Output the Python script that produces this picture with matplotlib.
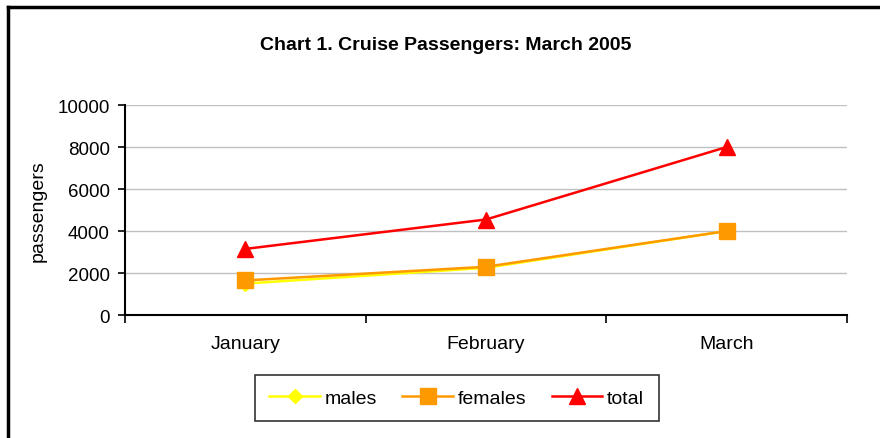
import matplotlib.pyplot as plt
from matplotlib.lines import Line2D

plt.rcParams['font.family'] = ['Liberation Sans', 'DejaVu Sans']

months = ['January', 'February', 'March']
males = [1500, 2250, 4000]
females = [1650, 2300, 4000]
total = [3150, 4550, 8000]

fig = plt.figure(figsize=(8.8, 4.39), dpi=100)
ax = fig.add_axes([0.142, 0.280, 0.8205, 0.4785])

x = range(len(months))
ax.plot(x, males, color='#ffff00', lw=1.8, marker='D', ms=7, label='males')
ax.plot(x, females, color='#ff9900', lw=1.8, marker='s', ms=11, label='females')
ax.plot(x, total, color='#ff0000', lw=1.8, marker='^', ms=11, label='total')

ax.set_xlim(-0.5, 2.5)
ax.set_ylim(0, 10000)
ax.set_yticks(range(0, 10001, 2000))
ax.set_xticks([-0.5, 0.5, 1.5, 2.5])
ax.set_xticklabels([])
ax.set_xticks(list(x), minor=True)
ax.set_xticklabels(months, minor=True)
ax.tick_params(axis='x', which='major', length=6, width=1.2, direction='out')
ax.tick_params(axis='x', which='minor', length=0, pad=14, labelsize=14)
ax.tick_params(axis='y', length=5, width=1.2, direction='out', labelsize=13.5, pad=6)
ax.grid(axis='y', color='#c0c0c0', lw=1)
ax.set_axisbelow(True)
for s in ['top', 'right']:
    ax.spines[s].set_visible(False)
for s in ['left', 'bottom']:
    ax.spines[s].set_linewidth(1.5)
ax.set_ylabel('passengers', fontsize=14, labelpad=8)

fig.text(0.506, 0.897, 'Chart 1. Cruise Passengers: March 2005', ha='center', va='center',
         fontsize=14, fontweight='bold')

leg = fig.legend(loc='center', bbox_to_anchor=(0.519, 0.091), ncol=3, fontsize=14,
                 frameon=True, fancybox=False, edgecolor='black', handlelength=2.6,
                 columnspacing=1.3, handletextpad=0.25, borderpad=0.75)
leg.get_frame().set_linewidth(1.2)

# outer chart border (left and top visible)
fig.add_artist(Line2D([0.0095, 0.0095], [0, 0.981], color='black', lw=2.5, transform=fig.transFigure))
fig.add_artist(Line2D([0.0095, 1.0], [0.981, 0.981], color='black', lw=2.5, transform=fig.transFigure))

fig.savefig('out.png', dpi=100)
